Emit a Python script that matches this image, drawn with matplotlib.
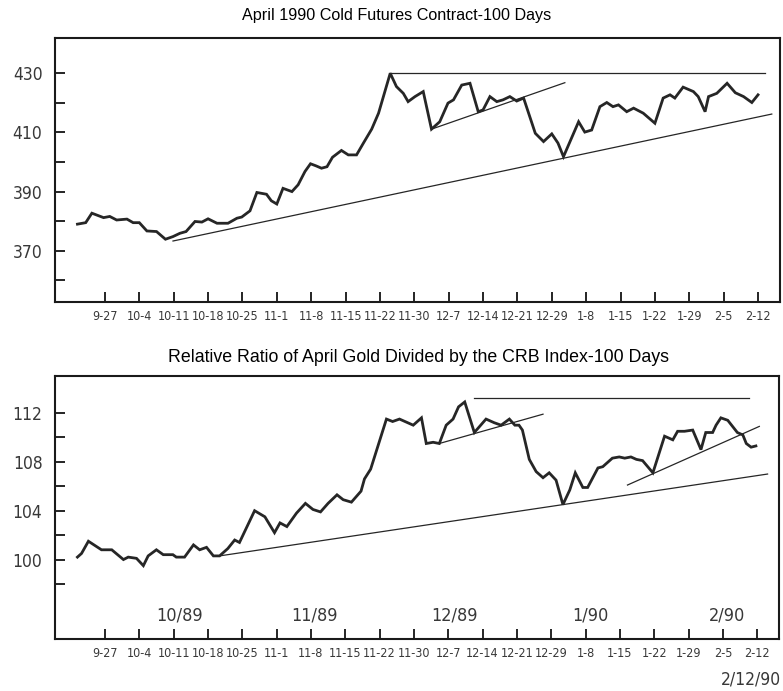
import matplotlib
matplotlib.use('Agg')
import matplotlib.pyplot as plt

# weekly date labels (one tick every 5 trading days)
week_labels = ['9-27', '10-4', '10-11', '10-18', '10-25', '11-1', '11-8', '11-15', '11-22', '11-30',
               '12-7', '12-14', '12-21', '12-29', '1-8', '1-15', '1-22', '1-29', '2-5', '2-12']
week_ticks = [4 + 5 * i for i in range(len(week_labels))]

# April 1990 gold futures (trading day, price)
gold_days = [0.0, 1.2, 2.1, 3.8, 4.7, 5.7, 7.2, 8.1, 9.0, 10.1, 11.5, 12.8, 13.9, 14.9, 15.8,
             17.1, 18.1, 19.0, 20.3, 21.9, 23.2, 23.9, 25.1, 26.1, 27.5, 28.2, 29.0, 29.9, 31.2,
             32.1, 33.1, 33.9, 34.7, 35.5, 36.3, 37.1, 38.4, 39.4, 40.6, 41.6, 42.8, 43.8, 45.5,
             46.4, 47.4, 48.1, 49.1, 50.3, 51.5, 52.7, 53.9, 54.7, 55.9, 57.1, 58.3, 59.0, 60.0,
             61.0, 61.9, 62.9, 63.9, 64.9, 66.6, 67.8, 69.0, 69.9, 70.7, 72.9, 73.8, 74.8, 76.0,
             77.0, 77.9, 78.7, 79.9, 80.9, 82.3, 84.0, 85.2, 86.2, 86.9, 88.1, 89.6, 90.3, 91.3,
             91.8, 93.0, 94.5, 95.7, 96.9, 98.1, 99.0]
gold_price = [379.0, 379.5, 382.7, 381.2, 381.6, 380.4, 380.7, 379.5, 379.5, 376.7, 376.5, 373.9,
              374.8, 375.9, 376.5, 379.9, 379.7, 380.8, 379.3, 379.3, 381.0, 381.4, 383.5, 389.7,
              389.1, 386.9, 385.8, 391.1, 390.0, 392.3, 396.8, 399.4, 398.7, 397.9, 398.4, 401.6,
              403.9, 402.4, 402.4, 406.4, 411.1, 416.5, 430.0, 425.5, 423.2, 420.4, 422.1, 423.8,
              411.1, 413.6, 419.9, 421.0, 426.0, 426.6, 417.0, 417.6, 422.1, 420.4, 421.0, 422.1,
              420.6, 421.6, 409.7, 406.9, 409.5, 406.4, 401.8, 413.6, 410.1, 410.8, 418.7, 420.1,
              418.7, 419.3, 417.0, 418.2, 416.5, 413.1, 421.6, 422.7, 421.6, 425.3, 423.8, 422.1,
              417.0, 422.1, 423.2, 426.6, 423.4, 422.1, 420.1, 422.7]

# gold / CRB relative ratio (trading day, ratio)
ratio_days = [0.0, 0.6, 1.6, 3.5, 5.0, 6.7, 7.4, 8.6, 9.6, 10.3, 11.5, 12.5, 13.9, 14.4, 15.6,
              16.9, 17.8, 18.8, 19.8, 20.7, 21.9, 22.9, 23.6, 25.8, 27.3, 28.7, 29.5, 30.5, 31.9,
              33.2, 34.3, 35.4, 36.5, 37.8, 38.7, 39.9, 41.3, 41.8, 42.7, 45.0, 45.9, 46.9, 48.9,
              50.1, 50.8, 51.8, 52.7, 53.7, 54.7, 55.5, 56.4, 57.8, 59.5, 60.7, 61.7, 62.9, 63.7,
              64.3, 64.8, 65.8, 66.8, 67.8, 68.7, 69.7, 70.7, 71.7, 72.5, 73.6, 74.3, 75.8, 76.5,
              77.9, 78.9, 79.7, 80.6, 81.4, 82.3, 83.8, 85.5, 86.7, 87.4, 88.4, 89.6, 90.8, 91.5,
              92.5, 93.0, 93.7, 94.7, 96.1, 96.9, 97.4, 98.1, 98.8]
ratio_vals = [100.2, 100.5, 101.5, 100.8, 100.8, 100.0, 100.2, 100.1, 99.5, 100.3, 100.8, 100.4,
              100.4, 100.2, 100.2, 101.2, 100.8, 101.0, 100.3, 100.3, 100.9, 101.6, 101.4, 104.0,
              103.5, 102.2, 103.0, 102.7, 103.8, 104.6, 104.1, 103.9, 104.6, 105.3, 104.9, 104.7,
              105.6, 106.6, 107.4, 111.5, 111.3, 111.5, 111.0, 111.6, 109.5, 109.6, 109.5, 111.0,
              111.5, 112.5, 112.9, 110.4, 111.5, 111.2, 111.0, 111.5, 111.0, 111.0, 110.6, 108.2,
              107.2, 106.7, 107.1, 106.5, 104.5, 105.7, 107.1, 105.9, 105.9, 107.5, 107.6, 108.3,
              108.4, 108.3, 108.4, 108.2, 108.1, 107.1, 110.1, 109.8, 110.5, 110.5, 110.6, 109.0,
              110.4, 110.4, 111.0, 111.6, 111.4, 110.4, 110.2, 109.5, 109.2, 109.3]

# hand-drawn trendlines: ((day, value), (day, value))
gold_trend = [((45.5, 430.1), (100.0, 430.1)),
              ((51.5, 411.1), (70.9, 426.8)),
              ((13.9, 373.3), (101.0, 416.2))]
ratio_trend = [((57.8, 113.2), (97.8, 113.2)),
               ((52.7, 109.5), (67.8, 111.9)),
               ((20.7, 100.3), (100.5, 107.0)),
               ((80.1, 106.1), (99.3, 110.9))]

month_labels = ['10/89', '11/89', '12/89', '1/90', '2/90']
month_pos = [14.9, 34.5, 54.9, 74.7, 94.6]

line_col = '#262626'
text_col = '#383838'

fig = plt.figure(figsize=(7.83, 6.91), dpi=100)
ax1 = fig.add_axes([0.0702, 0.563, 0.926, 0.382])
ax2 = fig.add_axes([0.0702, 0.0753, 0.925, 0.381])


def style_axis(ax):
    for s in ax.spines.values():
        s.set_linewidth(1.5)
        s.set_color('#1a1a1a')
    ax.set_xticks(week_ticks)
    ax.set_xticklabels(week_labels, family='DejaVu Sans', fontstretch='condensed',
                       fontsize=9, color=text_col)
    ax.tick_params(axis='x', direction='in', length=7, width=1.2, pad=6)
    ax.tick_params(axis='y', direction='in', length=7, width=1.2, pad=9, labelsize=12.5,
                   labelcolor=text_col)
    ax.tick_params(axis='y', which='minor', direction='in', length=7, width=1.2)
    ax.set_xlim(-3.27, 102.2)


ax1.plot(gold_days, gold_price, color=line_col, lw=2.0, solid_joinstyle='miter')
for (x0, y0), (x1, y1) in gold_trend:
    ax1.plot([x0, x1], [y0, y1], color=line_col, lw=0.9)
style_axis(ax1)
ax1.set_ylim(352.7, 441.9)
ax1.set_yticks([370, 390, 410, 430])
ax1.set_yticks([360, 380, 400, 420], minor=True)
for lab in ax1.get_yticklabels():
    lab.set_fontstretch('condensed')

ax2.plot(ratio_days, ratio_vals, color=line_col, lw=2.0, solid_joinstyle='miter')
for (x0, y0), (x1, y1) in ratio_trend:
    ax2.plot([x0, x1], [y0, y1], color=line_col, lw=0.9)
style_axis(ax2)
ax2.set_ylim(93.5, 115.05)
ax2.set_yticks([100, 104, 108, 112])
ax2.set_yticks([98, 102, 106, 110], minor=True)
for lab in ax2.get_yticklabels():
    lab.set_fontstretch('condensed')
for lab, pos in zip(month_labels, month_pos):
    ax2.text(pos, 95.4, lab, ha='center', va='center', fontsize=13, fontstretch='condensed',
             color=text_col)

fig.text(0.506, 0.978, 'April 1990 Cold Futures Contract-100 Days', ha='center', va='center',
         fontsize=11.6, family='Liberation Sans')
fig.text(0.534, 0.482, 'Relative Ratio of April Gold Divided by the CRB Index-100 Days',
         ha='center', va='center', fontsize=12.8, family='Liberation Sans')
fig.text(0.997, 0.016, '2/12/90', ha='right', va='center', fontsize=12.5, fontstretch='condensed',
         color=text_col)

fig.savefig('out.png', dpi=100)
